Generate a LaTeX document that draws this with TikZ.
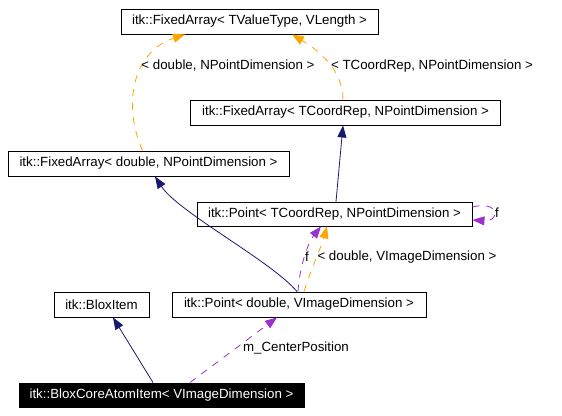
\documentclass[tikz,border=0pt]{standalone}
\usepackage{fontspec}
\setmainfont{Liberation Sans}
\usetikzlibrary{arrows.meta,calc}
\definecolor{navy}{RGB}{25,25,112}
\definecolor{orng}{RGB}{255,165,0}
\definecolor{purp}{RGB}{154,50,205}
\tikzset{
  box/.style={draw=black,line width=0.9pt,fill=white,minimum height=25pt,inner sep=0pt,font=\fontsize{13.3}{15}\selectfont},
  dark/.style={box,fill=black,text=white},
  lbl/.style={font=\fontsize{13.3}{15}\selectfont,inner sep=0pt},
  tip/.style={-{Triangle[length=12pt,width=9pt]}},
  inh/.style={tip,draw=navy,line width=0.8pt},
  tmpl/.style={tip,draw=orng,line width=0.8pt,dash pattern=on 7pt off 7pt},
  use/.style={tip,draw=purp,line width=0.8pt,dash pattern=on 7pt off 7pt}
}
\begin{document}
\begin{tikzpicture}[x=1pt,y=-1pt]
\useasboundingbox (0,0) rectangle (562,415);
\node[box,minimum width=257pt] (b1) at (249.5,21.5) {itk::FixedArray< TValueType, VLength >};
\node[box,minimum width=310pt] (b2) at (345.5,112.5) {itk::FixedArray< TCoordRep, NPointDimension >};
\node[box,minimum width=281pt] (b3) at (148.5,163.5) {itk::FixedArray< double, NPointDimension >};
\node[box,minimum width=275pt,minimum height=24pt] (b4) at (334.5,214) {itk::Point< TCoordRep, NPointDimension >};
\node[box,minimum width=95pt] (b5) at (101.5,304.5) {itk::BloxItem};
\node[box,minimum width=254pt] (b6) at (299,304.5) {itk::Point< double, VImageDimension >};
\node[dark,minimum width=285pt,minimum height=24pt] (b7) at (161.5,395) {itk::BloxCoreAtomItem< VImageDimension >};
% template edges to b1
\draw[tmpl] ([xshift=-6pt]b3.north) .. controls +(-20,-45) and (132,52) .. ([xshift=-64.5pt]b1.south);
\draw[tmpl] ([xshift=-2.5pt]b2.north) .. controls +(0,-30) and (318,50) .. ([xshift=42.5pt]b1.south);
\node[lbl] (l1) at (228,66) {< double, NPointDimension >};
\node[lbl] (l2) at (432,66) {< TCoordRep, NPointDimension >};
% inheritance
\draw[inh] ([xshift=1.5pt]b4.north) -- ([xshift=-2.5pt]b2.south);
\draw[inh] ([xshift=-2pt]b6.north) .. controls +(-25,-30) and (178,212) .. ([xshift=6.5pt]b3.south);
\draw[inh] ([xshift=-8.5pt]b7.north) -- ([xshift=11.5pt]b5.south);
% b6 -> b4
\draw[use] ([xshift=-1pt]b6.north) .. controls +(2,-30) and (310,240) .. ([xshift=-13.5pt]b4.south);
\draw[tmpl] ([xshift=5pt]b6.north) .. controls +(8,-25) and (322,245) .. ([xshift=-7.5pt]b4.south);
\node[lbl] (l3) at (307,257) {f};
\node[lbl] (l4) at (407,257) {< double, VImageDimension >};
% self loop
\draw[use] ([yshift=7pt]b4.east) .. controls (500,200) and (500,222) .. ([yshift=-6pt]b4.east);
\node[lbl] (l5) at (497,213) {f};
% b7 -> b6
\draw[use] ([xshift=28.5pt]b7.north) -- ([xshift=-22pt]b6.south);
\node[lbl] (l6) at (296,348) {m\_CenterPosition};
\end{tikzpicture}
\end{document}
